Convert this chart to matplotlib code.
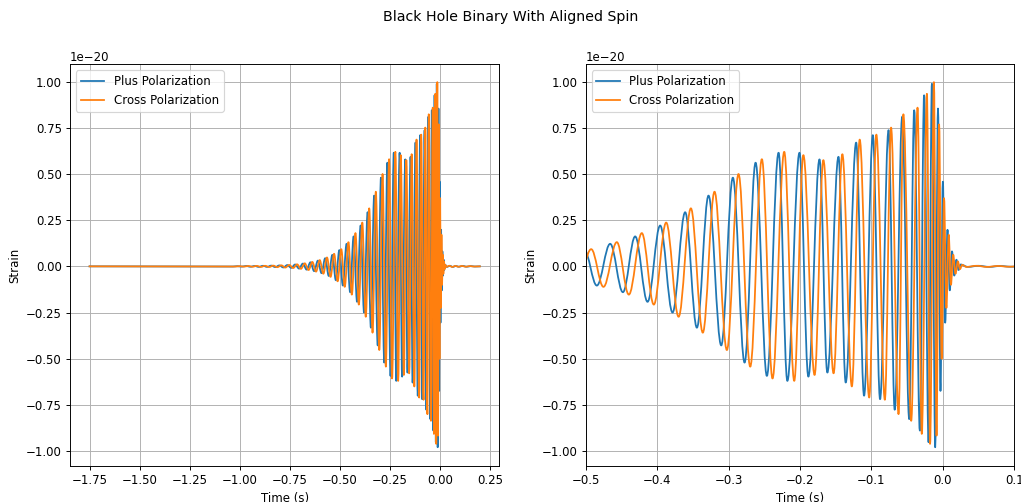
import matplotlib
matplotlib.use("Agg")
import matplotlib.pyplot as plt
from matplotlib.path import Path
from matplotlib.patches import PathPatch

# extrema of each polarization (time in s, strain in 1e-20)
plus_t = [-1.75, -1.034, -1.0117, -0.9897, -0.968, -0.9465, -0.9253, -0.9043, -0.8835,
          -0.8628, -0.8423, -0.822, -0.8018, -0.7818, -0.762, -0.7423, -0.7228, -0.7035,
          -0.6843, -0.6653, -0.6465, -0.6278, -0.6093, -0.591, -0.5728, -0.5548, -0.537,
          -0.5195, -0.502, -0.4845, -0.4658, -0.448, -0.4308, -0.4135, -0.3958, -0.3785,
          -0.3608, -0.3444, -0.3281, -0.3103, -0.294, -0.2776, -0.2622, -0.2464, -0.23,
          -0.2177, -0.2007, -0.1883, -0.1727, -0.1617, -0.1461, -0.136, -0.1214, -0.1103,
          -0.098, -0.0879, -0.076, -0.0674, -0.0569, -0.0471, -0.0401, -0.0322, -0.0262,
          -0.02, -0.0153, -0.0107, -0.0068, -0.0033, 0.0, 0.0033, 0.0065, 0.0097, 0.0128,
          0.016, 0.019, 0.022, 0.025, 0.035, 0.05, 0.065, 0.08, 0.095, 0.115, 0.135,
          0.155, 0.175, 0.2]
plus_h = [0.0, -0.001, 0.001, -0.0015, 0.002, -0.002, 0.002, -0.003, 0.003,
          -0.003, 0.004, -0.004, 0.005, -0.006, 0.007, -0.008, 0.010, -0.012,
          0.015, -0.018, 0.022, -0.026, 0.031, -0.037, 0.044, -0.052, 0.062,
          -0.075, 0.088, -0.104, 0.122, -0.14, 0.162, -0.192, 0.221, -0.25,
          0.293, -0.332, 0.383, -0.428, 0.48, -0.521, 0.561, -0.593, 0.615,
          -0.62, 0.615, -0.597, 0.579, -0.575, 0.593, -0.629, 0.67, -0.70,
          0.71, -0.719, 0.737, -0.776, 0.81, -0.827, 0.845, -0.889, 0.926,
          -0.952, 0.988, -0.979, 0.854, -0.674, 0.458, -0.305, 0.198, -0.13, 0.081,
          -0.05, 0.036, -0.02, 0.01, -0.003, 0.003, -0.003, 0.002, -0.002, 0.002, -0.002,
          0.0015, -0.001, 0.0]

cross_t = [-1.75, -1.023, -1.0007, -0.9788, -0.9572, -0.9359, -0.9148, -0.8939, -0.8731,
           -0.8525, -0.8321, -0.8119, -0.7918, -0.7719, -0.7521, -0.7325, -0.7131, -0.6939,
           -0.6748, -0.6559, -0.6371, -0.6185, -0.6001, -0.5819, -0.5638, -0.5459, -0.5282,
           -0.5107, -0.4924, -0.4752, -0.4565, -0.4397, -0.4215, -0.4047, -0.3874, -0.370,
           -0.3528, -0.3361, -0.3197, -0.3024, -0.2861, -0.2697, -0.2534, -0.2385, -0.2221,
           -0.2081, -0.1953, -0.1796, -0.1673, -0.153, -0.1407, -0.1274, -0.1164, -0.1031,
           -0.0931, -0.0812, -0.0725, -0.062, -0.0553, -0.0443, -0.0354, -0.0295, -0.0223,
           -0.0179, -0.0125, -0.0088, -0.0052, -0.0017, 0.0017, 0.005, 0.0082, 0.0113,
           0.0145, 0.0177, 0.021, 0.024, 0.027, 0.033, 0.047, 0.062, 0.077, 0.093, 0.11,
           0.13, 0.15, 0.17, 0.2]
cross_h = [0.0, -0.001, 0.001, -0.0015, 0.002, -0.002, 0.0025, -0.003, 0.003,
           -0.0035, 0.004, -0.0045, 0.0055, -0.0065, 0.0075, -0.009, 0.011, -0.0135,
           0.0165, -0.020, 0.024, -0.0285, 0.034, -0.040, 0.048, -0.057, 0.068,
           -0.081, 0.093, -0.111, 0.131, -0.153, 0.18, -0.207, 0.237, -0.273,
           0.314, -0.359, 0.404, -0.453, 0.5, -0.543, 0.58, -0.607, 0.62,
           -0.62, 0.602, -0.588, 0.575, -0.579, 0.607, -0.65, 0.686, -0.71,
           0.713, -0.722, 0.751, -0.80, 0.823, -0.836, 0.859, -0.907, 0.934,
           -0.961, 0.997, -0.916, 0.768, -0.5, 0.369, -0.225, 0.171, -0.1,
           0.063, -0.04, 0.027, -0.015, 0.008, -0.003, 0.003, -0.003, 0.002, -0.002, 0.002,
           -0.002, 0.0015, -0.001, 0.0]

SCALE = 1e-20
series = [("Plus Polarization", plus_t, plus_h, "#1f77b4"),
          ("Cross Polarization", cross_t, cross_h, "#ff7f0e")]


def wave_path(ts, hs):
    # smooth half-wave between consecutive extrema (flat tangent at each extremum)
    k = 0.3642
    verts = [(ts[0], hs[0] * SCALE)]
    codes = [Path.MOVETO]
    for i in range(len(ts) - 1):
        t0, t1 = ts[i], ts[i + 1]
        y0, y1 = hs[i] * SCALE, hs[i + 1] * SCALE
        dt = t1 - t0
        verts += [(t0 + k * dt, y0), (t1 - k * dt, y1), (t1, y1)]
        codes += [Path.CURVE4] * 3
    return Path(verts, codes)


fig = plt.figure(figsize=(12, 5.9), dpi=85.1)
ax1 = fig.add_axes([0.0686, 0.0723, 0.4204, 0.7996])
ax2 = fig.add_axes([0.5736, 0.0723, 0.4196, 0.7996])

for ax in (ax1, ax2):
    for label, ts, hs, color in series:
        ax.add_patch(PathPatch(wave_path(ts, hs), facecolor="none", edgecolor=color,
                               lw=1.5, joinstyle="round", capstyle="projecting", zorder=2))
        ax.plot([], [], color=color, lw=1.5, label=label)
    ax.set_xlabel("Time (s)")
    ax.set_ylabel("Strain")
    ax.grid(True)
    ax.legend(loc="upper left")
    ax.set_ylim(-1.079e-20, 1.094e-20)

ax1.set_xlim(-1.8475, 0.2975)
ax1.set_xticks([-1.75, -1.5, -1.25, -1.0, -0.75, -0.5, -0.25, 0.0, 0.25])
ax2.set_xlim(-0.5, 0.1)
ax2.set_xticks([-0.5, -0.4, -0.3, -0.2, -0.1, 0.0, 0.1])

fig.suptitle("Black Hole Binary With Aligned Spin")
fig.savefig("out.png", dpi=85.1)
